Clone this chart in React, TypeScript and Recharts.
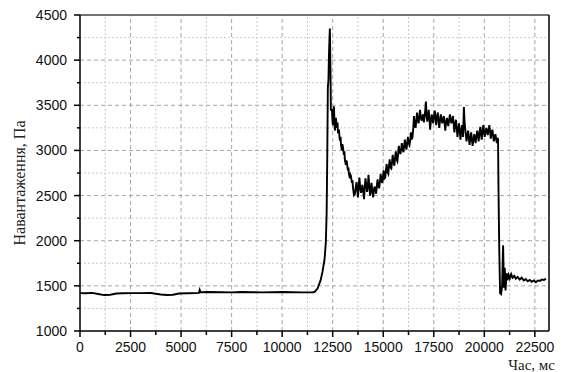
import { LineChart, Line, XAxis, YAxis, ReferenceLine } from "recharts";

// pressure samples, [time ms, load Pa]
const baseline: [number, number][] = [
  [0, 1420], [300, 1418], [600, 1422], [900, 1410], [1200, 1398], [1500, 1402],
  [1800, 1415], [2100, 1418], [2500, 1420], [3000, 1419], [3500, 1421], [4000, 1405],
  [4300, 1398], [4600, 1402], [4900, 1415], [5300, 1418], [5700, 1420], [5880, 1422],
  [5920, 1455], [5960, 1430], [6300, 1432], [7000, 1430], [7500, 1428], [8000, 1432],
  [8500, 1430], [9000, 1428], [9500, 1430], [10000, 1432], [10500, 1430], [11000, 1428],
  [11500, 1430], [11600, 1432],
];

const surge: [number, number][] = [
  [11750, 1470], [11900, 1560], [12000, 1660], [12100, 1800], [12160, 1980],
  [12200, 2300], [12230, 2900], [12260, 3700], [12290, 3780], [12320, 4100],
  [12360, 4350], [12390, 3900], [12410, 3450],
];

const decay: [number, number][] = [
  [12460, 3450], [12490, 3330], [12510, 3280], [12560, 3490], [12590, 3300],
  [12610, 3220], [12660, 3360], [12690, 3280], [12710, 3250], [12740, 3310],
  [12760, 3190], [12810, 3230], [12840, 3140], [12860, 3110], [12890, 3150],
  [12910, 3060], [12955, 3000], [12980, 3070], [13005, 3040], [13055, 2950],
  [13080, 2990], [13100, 2900], [13150, 2840], [13180, 2890], [13200, 2870],
  [13250, 2780], [13280, 2810], [13300, 2740], [13350, 2690], [13380, 2730],
  [13400, 2720], [13450, 2640], [13480, 2670], [13500, 2600], [13550, 2505],
];

const trough: [number, number][] = [
  [13600, 2520], [13640, 2590], [13680, 2650], [13720, 2560], [13750, 2480],
  [13790, 2610], [13820, 2700], [13860, 2590], [13900, 2530], [13940, 2570],
  [13970, 2620], [14010, 2540], [14050, 2460], [14090, 2600], [14120, 2690],
  [14160, 2620], [14200, 2540], [14240, 2600], [14270, 2730], [14310, 2610],
  [14350, 2500], [14390, 2580], [14420, 2640], [14460, 2550], [14500, 2480],
  [14540, 2560], [14570, 2600], [14610, 2570], [14650, 2520], [14690, 2620],
  [14720, 2680], [14760, 2610], [14800, 2580], [14840, 2660], [14870, 2740],
];

const plateau: [number, number][] = [
  [14910, 2680], [14950, 2640], [14990, 2720], [15020, 2780], [15060, 2690],
  [15100, 2700], [15140, 2790], [15170, 2850], [15210, 2760], [15250, 2740],
  [15290, 2840], [15320, 2900], [15360, 2810], [15400, 2800], [15440, 2880],
  [15470, 2950], [15510, 2870], [15550, 2830], [15590, 2920], [15620, 2990],
  [15660, 2900], [15700, 2880], [15740, 2970], [15770, 3050], [15810, 2990],
  [15850, 2960], [15890, 3020], [15920, 3080], [15960, 3020], [16000, 2980],
  [16040, 3060], [16070, 3120], [16110, 3050], [16150, 3010], [16190, 3090],
  [16220, 3150], [16260, 3080], [16300, 3060], [16340, 3130], [16370, 3200],
  [16410, 3120], [16450, 3150], [16490, 3260], [16520, 3380], [16560, 3290],
  [16600, 3250], [16640, 3340], [16670, 3420], [16710, 3330], [16750, 3300],
  [16790, 3390], [16820, 3450], [16860, 3360], [16900, 3330], [16940, 3380],
  [16970, 3400], [17010, 3310], [17040, 3360], [17080, 3450], [17110, 3540],
  [17150, 3380], [17180, 3320], [17220, 3390], [17250, 3450], [17290, 3340],
  [17320, 3230], [17360, 3330], [17400, 3400], [17440, 3350], [17470, 3300],
  [17510, 3380], [17550, 3440], [17590, 3350], [17620, 3280], [17660, 3370],
  [17700, 3420], [17740, 3330], [17770, 3250], [17810, 3330], [17850, 3400],
  [17890, 3350], [17920, 3300], [17960, 3340], [18000, 3380], [18040, 3290],
  [18070, 3220], [18110, 3310], [18150, 3360], [18190, 3300], [18220, 3270],
  [18260, 3340], [18300, 3400], [18340, 3330], [18370, 3300], [18410, 3350],
  [18450, 3380], [18490, 3280], [18520, 3200], [18560, 3290], [18600, 3340],
  [18640, 3240], [18670, 3150], [18710, 3230], [18750, 3300], [18790, 3200],
  [18820, 3120], [18860, 3210], [18900, 3280], [18930, 3200], [18950, 3150],
  [18970, 3320], [18990, 3480], [19020, 3330], [19050, 3250], [19090, 3170],
  [19120, 3100], [19160, 3170], [19200, 3220], [19240, 3130], [19270, 3060],
  [19310, 3140], [19350, 3200], [19390, 3110], [19420, 3050], [19460, 3120],
  [19500, 3180], [19540, 3120], [19570, 3080], [19610, 3160], [19650, 3220],
  [19690, 3150], [19720, 3100], [19760, 3190], [19800, 3260], [19840, 3180],
  [19870, 3120], [19910, 3210], [19950, 3280], [19990, 3200], [20020, 3150],
  [20060, 3210], [20100, 3250], [20140, 3200], [20170, 3170], [20210, 3230],
  [20250, 3280], [20290, 3200], [20320, 3130], [20360, 3190], [20400, 3230],
  [20440, 3160], [20470, 3100], [20510, 3150], [20550, 3180], [20590, 3120],
  [20620, 3080], [20650, 3140], [20680, 3120],
];

const tail: [number, number][] = [
  [20700, 2600], [20740, 1900], [20780, 1420], [20830, 1410], [20880, 1500],
  [20930, 1950], [20970, 1480], [21010, 1700], [21050, 1450], [21100, 1640],
  [21150, 1560], [21200, 1620], [21260, 1580], [21330, 1630], [21400, 1590],
  [21480, 1610], [21560, 1580], [21650, 1600], [21750, 1570], [21850, 1590],
  [21950, 1560], [22050, 1575], [22150, 1550], [22250, 1565], [22350, 1545],
  [22450, 1560], [22550, 1540], [22650, 1560], [22750, 1555], [22850, 1570],
  [22950, 1565], [23050, 1580],
];

const xMajor = [0, 2500, 5000, 7500, 10000, 12500, 15000, 17500, 20000, 22500];
const xMinor = [1250, 3750, 6250, 8750, 11250, 13750, 16250, 18750, 21250];
const yMajor = [1000, 1500, 2000, 2500, 3000, 3500, 4000, 4500];
const yMinor = [1250, 1750, 2250, 2750, 3250, 3750, 4250];
const xMax = 23200;

const data = [...baseline, ...surge, ...decay, ...trough, ...plateau, ...tail].map(
  ([t, p]) => ({ t, p })
);

const tickFont = "'Liberation Sans', Arial, sans-serif";

function XTick(props: any) {
  const { x, y, payload } = props;
  const major = xMajor.includes(payload.value);
  return (
    <g>
      <line x1={x} x2={x} y1={y} y2={y + (major ? 6 : 4)} stroke="#000" strokeWidth={1.5} />
      {major && (
        <text x={x} y={y + 21} textAnchor="middle" fontSize={14} fontFamily={tickFont} fill="#111">
          {payload.value}
        </text>
      )}
    </g>
  );
}

function YTick(props: any) {
  const { x, y, payload } = props;
  const major = yMajor.includes(payload.value);
  return (
    <g>
      <line x1={x - (major ? 6 : 3)} x2={x} y1={y} y2={y} stroke="#000" strokeWidth={1.5} />
      {major && (
        <text x={x - 13} y={y + 5} textAnchor="end" fontSize={14} fontFamily={tickFont} fill="#111">
          {payload.value}
        </text>
      )}
    </g>
  );
}

export default function App() {
  return (
    <div style={{ position: "absolute", left: 0, top: 0, width: 561, height: 372, background: "#fff" }}>
      <LineChart width={561} height={372} data={data} margin={{ top: 15, right: 12, bottom: 0, left: 0 }}>
        {yMinor.map((v) => (
          <ReferenceLine key={"ym" + v} y={v} stroke="#cccccc" strokeDasharray="2 2" />
        ))}
        {xMinor.map((v) => (
          <ReferenceLine key={"xm" + v} x={v} stroke="#cccccc" strokeDasharray="2 2" />
        ))}
        {yMajor.slice(1, -1).map((v) => (
          <ReferenceLine key={"yM" + v} y={v} stroke="#a6a6a6" strokeDasharray="4 3" />
        ))}
        {xMajor.slice(1).map((v) => (
          <ReferenceLine key={"xM" + v} x={v} stroke="#a6a6a6" strokeDasharray="4 3" />
        ))}
        <ReferenceLine y={4500} stroke="#444" strokeWidth={1.5} />
        <ReferenceLine x={xMax} stroke="#000" strokeWidth={1.5} />
        <XAxis
          dataKey="t"
          type="number"
          domain={[0, xMax]}
          ticks={[...xMajor, ...xMinor].sort((a, b) => a - b)}
          interval={0}
          height={41}
          tickSize={0}
          tickMargin={0}
          tickLine={false}
          tick={<XTick />}
          axisLine={{ stroke: "#000", strokeWidth: 1.5 }}
          allowDataOverflow
        />
        <YAxis
          type="number"
          domain={[1000, 4500]}
          ticks={[...yMajor, ...yMinor].sort((a, b) => a - b)}
          interval={0}
          width={80}
          tickSize={0}
          tickMargin={0}
          tickLine={false}
          tick={<YTick />}
          axisLine={{ stroke: "#000", strokeWidth: 1.5 }}
          allowDataOverflow
        />
        <Line
          dataKey="p"
          type="linear"
          stroke="#000"
          strokeWidth={1.9}
          dot={false}
          isAnimationActive={false}
        />
      </LineChart>
      <div
        style={{
          position: "absolute",
          left: 20,
          top: 183,
          transform: "translate(-50%, -50%) rotate(-90deg)",
          whiteSpace: "nowrap",
          fontFamily: "'Liberation Serif', 'Times New Roman', serif",
          fontSize: 16,
          color: "#222",
        }}
      >
        Навантаження, Па
      </div>
      <div
        style={{
          position: "absolute",
          right: 6,
          top: 357,
          whiteSpace: "nowrap",
          fontFamily: "'Liberation Serif', 'Times New Roman', serif",
          fontSize: 15,
          color: "#222",
        }}
      >
        Час, мс
      </div>
    </div>
  );
}
